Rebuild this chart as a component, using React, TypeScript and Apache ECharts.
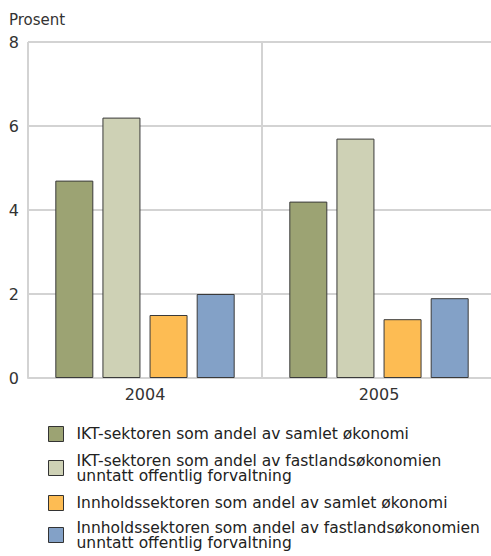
import React, { useEffect, useRef } from "react";
import * as echarts from "echarts";

const categories = ["2004", "2005"];
const seriesNames = [
  "IKT-sektoren som andel av samlet økonomi",
  "IKT-sektoren som andel av fastlandsøkonomien\nunntatt offentlig forvaltning",
  "Innholdssektoren som andel av samlet økonomi",
  "Innholdssektoren som andel av fastlandsøkonomien\nunntatt offentlig forvaltning",
];
const ictTotal = [4.7, 4.2];
const ictMainland = [6.2, 5.7];
const contentTotal = [1.5, 1.4];
const contentMainland = [2.0, 1.9];
const seriesValues = [ictTotal, ictMainland, contentTotal, contentMainland];
const colors = ["#9ca373", "#ced1b5", "#fdbc53", "#83a1c7"];
const yTicks = { min: 0, max: 8, interval: 2 };

const FONT = "DejaVu Sans";
const legendTops = [426, 445.5, 495, 512.5];

export default function App() {
  const ref = useRef<HTMLDivElement>(null);
  useEffect(() => {
    if (!ref.current) return;
    const chart = echarts.init(ref.current, undefined, { renderer: "svg" });
    const grey = "#d3d3d3";
    chart.setOption({
      animation: false,
      title: {
        text: "Prosent",
        left: 9,
        top: 12,
        padding: 0,
        textStyle: { fontFamily: FONT, fontSize: 15, fontWeight: "normal", color: "#333" },
      },
      grid: { left: 28, top: 42, right: 4, height: 336, containLabel: false },
      xAxis: {
        type: "category",
        data: categories,
        axisLine: { show: true, lineStyle: { color: grey, width: 2 } },
        axisTick: { show: false },
        splitLine: { show: true, interval: 0, lineStyle: { color: grey, width: 2 } },
        axisLabel: { fontFamily: FONT, fontSize: 16, color: "#333", margin: 8 },
      },
      yAxis: {
        type: "value",
        min: yTicks.min,
        max: yTicks.max,
        interval: yTicks.interval,
        axisLine: { show: false },
        axisTick: { show: false },
        splitLine: { show: true, lineStyle: { color: grey, width: 2 } },
        axisLabel: { fontFamily: FONT, fontSize: 16, color: "#333", margin: 9 },
      },
      legend: seriesNames.map((name, i) => {
        const twoLine = name.includes("\n");
        return {
          data: [name],
          orient: "vertical",
          left: 48,
          top: legendTops[i],
          padding: 0,
          itemWidth: 15,
          itemHeight: 15,
          icon: "rect",
          selectedMode: false,
          itemStyle: { borderColor: "#333", borderWidth: 1 },
          textStyle: {
            fontFamily: FONT,
            fontSize: 15.5,
            color: "#222",
            lineHeight: 15,
            padding: twoLine ? [15, 0, 0, 8] : [0, 0, 0, 8],
          },
        };
      }),
      series: seriesNames.map((name, i) => ({
        name,
        type: "bar",
        data: seriesValues[i],
        barWidth: 38,
        barGap: "24%",
        itemStyle: { color: colors[i], borderColor: "#3a3a3a", borderWidth: 1 },
      })),
    });
    return () => chart.dispose();
  }, []);
  return (
    <div
      ref={ref}
      style={{ position: "fixed", left: 0, top: 0, width: 500, height: 556, background: "#fff" }}
    />
  );
}
